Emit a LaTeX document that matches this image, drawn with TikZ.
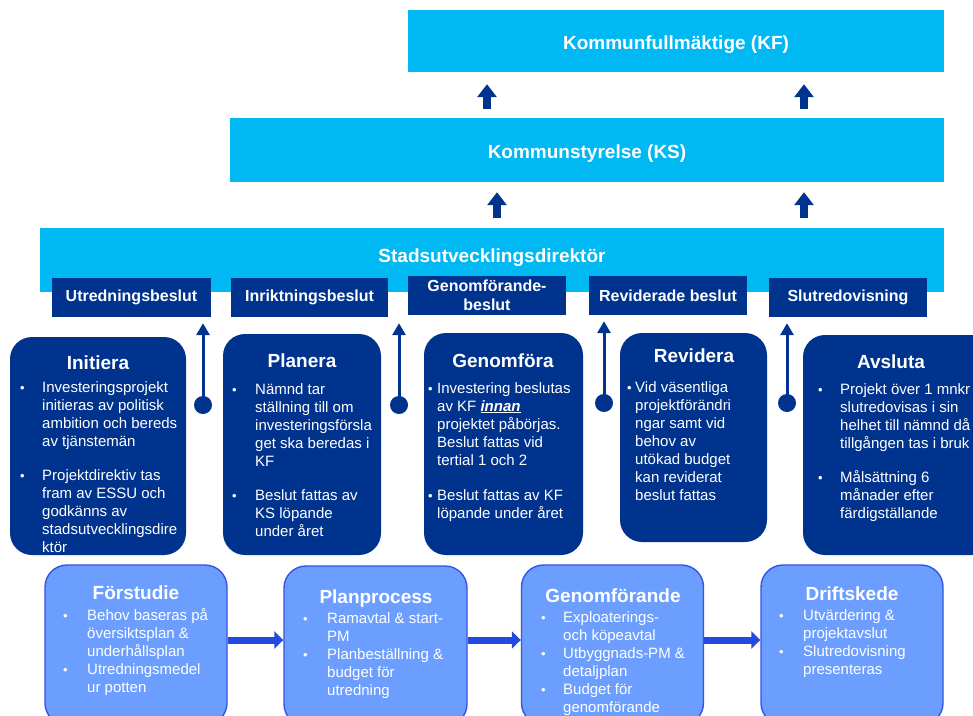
\documentclass[tikz,border=0pt]{standalone}
\usepackage{fontspec}
\setmainfont{Liberation Sans}
\usetikzlibrary{arrows.meta}
\definecolor{kcyan}{RGB}{0,185,242}
\definecolor{knavy}{RGB}{0,51,141}
\definecolor{klight}{RGB}{108,158,255}
\definecolor{kborder}{RGB}{50,85,230}
\definecolor{karrow}{RGB}{36,72,224}
\newcommand\fsz[2]{\fontsize{#1}{#2}\selectfont}
% name, bullet x, text x, baseline y, lines
\newcommand\blist[5]{%
  \node[bul] (#1b) at (#2,#4) {\textbullet};
  \node[btxt] (#1) at (#3,#4) {\begin{tabular}[t]{@{}l@{}}#5\end{tabular}};}
\begin{document}
\begin{tikzpicture}[x=1pt,y=-1pt,
  header/.style={fill=kcyan, draw=none, inner sep=0pt},
  hdtext/.style={anchor=base, text=white, font=\bfseries\fsz{19}{22}, inner sep=0pt},
  dec/.style={fill=knavy, draw=none, text=white, font=\bfseries\fsz{16}{19}, align=center, inner sep=0pt},
  phase/.style={fill=knavy, draw=none, rounded corners=22pt, inner sep=0pt},
  lower/.style={fill=klight, draw=kborder, line width=1.4pt, rounded corners=22pt, inner sep=0pt},
  ptitle/.style={anchor=base, text=white, font=\bfseries\fsz{19}{22}, inner sep=0pt},
  bul/.style={anchor=base west, text=white, font=\fsz{13}{18}, inner sep=0pt},
  btxt/.style={anchor=base west, text=white, font=\fsz{15}{18}, inner sep=0pt},
  uparrow/.style={draw=knavy, line width=8pt, -{Triangle[width=19pt,length=13pt]}},
  conn/.style={draw=knavy, line width=3pt, -{Triangle[width=13pt,length=12pt]}},
  dot/.style={circle, fill=knavy, draw=none, minimum size=18pt, inner sep=0pt},
  barrow/.style={draw=karrow, line width=7pt, -{Triangle[width=17pt,length=9pt]}}
]
\useasboundingbox (0,0) rectangle (973,715);
\clip (0,0) rectangle (973,715);
\fill[white] (0,0) rectangle (973,715);

% headers
\node[header, minimum width=536pt, minimum height=62pt] (kf) at (676,41) {};
\node[hdtext] (kfT) at (676,49) {Kommunfullmäktige (KF)};
\node[header, minimum width=714pt, minimum height=64pt] (ks) at (587,150) {};
\node[hdtext] (ksT) at (587,158) {Kommunstyrelse (KS)};
\node[header, minimum width=904pt, minimum height=64pt] (sd) at (492,260) {};
\node[hdtext] (sdT) at (492,262) {Stadsutvecklingsdirektör};

% arrows between levels
\coordinate (u1) at (487,109);
\coordinate (u2) at (804,109);
\coordinate (u3) at (497,218);
\coordinate (u4) at (804,218);
\draw[uparrow, shorten >=12pt] (u1) -- (u1 |- kf.south);
\draw[uparrow, shorten >=12pt] (u2) -- (u2 |- kf.south);
\draw[uparrow, shorten >=10pt] (u3) -- (u3 |- ks.south);
\draw[uparrow, shorten >=10pt] (u4) -- (u4 |- ks.south);

% decision boxes
\node[dec, minimum width=159pt, minimum height=39pt] (utr) at (131.5,297.5) {Utredningsbeslut};
\node[dec, minimum width=157pt, minimum height=39pt] (inr) at (309.5,297.5) {Inriktningsbeslut};
\node[dec, minimum width=158pt, minimum height=39pt] (gfb) at (487,295.5) {Genomförande-\\beslut};
\node[dec, minimum width=158pt, minimum height=39pt] (rev) at (668,295.5) {Reviderade beslut};
\node[dec, minimum width=158pt, minimum height=39pt] (slu) at (848,297.5) {Slutredovisning};

% connectors with dots
\node[dot] (d1) at (203,405) {};
\node[dot] (d2) at (399,405) {};
\node[dot] (d3) at (604,403) {};
\node[dot] (d4) at (787,403) {};
\draw[conn, shorten >=6pt] (d1.center) -- (d1 |- utr.south);
\draw[conn, shorten >=6pt] (d2.center) -- (d2 |- inr.south);
\draw[conn, shorten >=6pt] (d3.center) -- (d3 |- rev.south);
\draw[conn, shorten >=6pt] (d4.center) -- (d4 |- slu.south);

% phase boxes
\node[phase, minimum width=176pt, minimum height=218pt] (ini) at (98,446) {};
\node[phase, minimum width=158pt, minimum height=221pt] (pla) at (302,444.5) {};
\node[phase, minimum width=159pt, minimum height=222pt] (gen) at (503.5,444) {};
\node[phase, minimum width=147pt, minimum height=209pt] (rvd) at (693.5,437.5) {};
\node[phase, minimum width=190pt, minimum height=220pt] (avs) at (898,445) {};

\node[ptitle] (iniT) at (98,369) {Initiera};
\blist{ini1}{20}{42}{392}{Investeringsprojekt\\initieras av politisk\\ambition och bereds\\av tjänstemän}
\blist{ini2}{20}{42}{480}{Projektdirektiv tas\\fram av ESSU och\\godkänns av\\stadsutvecklingsdire\\ktör}

\node[ptitle] (plaT) at (302,367) {Planera};
\blist{pla1}{232}{255}{394}{Nämnd tar\\ställning till om\\investeringsförsla\\get ska beredas i\\KF}
\blist{pla2}{232}{255}{500}{Beslut fattas av\\KS löpande\\under året}

\node[ptitle] (genT) at (503,367) {Genomföra};
\blist{gen1}{428}{437}{393}{Investering beslutas\\av KF \textbf{\textit{\underline{innan}}}\\projektet påbörjas.\\Beslut fattas vid\\tertial 1 och 2}
\blist{gen2}{428}{437}{500}{Beslut fattas av KF\\löpande under året}

\node[ptitle] (rvdT) at (694,362) {Revidera};
\blist{rvd1}{627}{635}{392}{Vid väsentliga\\projektförändri\\ngar samt vid\\behov av\\utökad budget\\kan reviderat\\beslut fattas}

\node[ptitle] (avsT) at (891,368) {Avsluta};
\blist{avs1}{818}{840}{394}{Projekt över 1 mnkr\\slutredovisas i sin\\helhet till nämnd då\\tillgången tas i bruk}
\blist{avs2}{818}{840}{482}{Målsättning 6\\månader efter\\färdigställande}

% lower process boxes
\node[lower, minimum width=182pt, minimum height=160pt] (fs) at (136,645) {};
\node[lower, minimum width=183pt, minimum height=160pt] (pp) at (375.5,646) {};
\node[lower, minimum width=182pt, minimum height=160pt] (gf) at (612.5,645) {};
\node[lower, minimum width=182pt, minimum height=160pt] (dk) at (852,645) {};

\coordinate (ay) at (0,640);
\draw[barrow] (fs.east |- ay) -- (pp.west |- ay);
\draw[barrow] (pp.east |- ay) -- (gf.west |- ay);
\draw[barrow] (gf.east |- ay) -- (dk.west |- ay);

\node[ptitle] (fsT) at (136,599) {Förstudie};
\blist{fs1}{63}{87}{620}{Behov baseras på\\översiktsplan \&\\underhållsplan}
\blist{fs2}{63}{87}{674}{Utredningsmedel\\ur potten}

\node[ptitle] (ppT) at (376,603) {Planprocess};
\blist{pp1}{303}{327}{623}{Ramavtal \& start-\\PM}
\blist{pp2}{303}{327}{659}{Planbeställning \&\\budget för\\utredning}

\node[ptitle] (gfT) at (613,602) {Genomförande};
\blist{gf1}{541}{563}{622}{Exploaterings-\\och köpeavtal}
\blist{gf2}{541}{563}{658}{Utbyggnads-PM \&\\detaljplan}
\blist{gf3}{541}{563}{694}{Budget för\\genomförande}

\node[ptitle] (dkT) at (852,600) {Driftskede};
\blist{dk1}{779}{803}{620}{Utvärdering \&\\projektavslut}
\blist{dk2}{779}{803}{656}{Slutredovisning\\presenteras}
\end{tikzpicture}
\end{document}
